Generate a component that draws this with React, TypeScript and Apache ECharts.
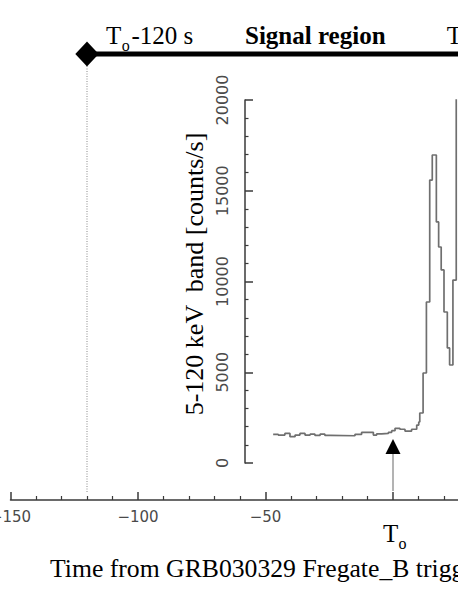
import React, { useEffect, useRef } from "react";
import * as echarts from "echarts";

// Light curve bins: left edge time (s from trigger) and rate (counts/s)
const binStart = [
  -47, -45, -42.4, -40.4, -38.4, -36.5, -34.5, -32.5, -30.6, -28.6, -26.7, -24.7,
  -14.9, -12.3, -7.7, -6.4, -4.4, -1.8, -0.5, 0.8, 2.7, 4.7, 7.3, 9.3, 10.1, 10.5,
  11.8, 13.1, 14.4, 15.4, 17, 17.9, 18.9, 20, 21.3, 22.2, 23.5, 24.8, 26.5,
];
const counts = [
  1580, 1540, 1630, 1450, 1540, 1630, 1540, 1590, 1520, 1590, 1520, 1500,
  1580, 1690, 1540, 1610, 1630, 1690, 1780, 1910, 1860, 1760, 1860, 2090, 2260, 2755,
  4960, 8870, 15590, 16970, 13280, 11900, 10640, 8320, 6340, 5400, 10080, 30000, 30000,
];
const xMin = -150;
const xMax = 60;
const xStep = 50;
const yMin = 0;
const yMax = 20000;
const yStep = 5000;
const signalStart = -120; // T0 - 120 s
const triggerTime = 0; // T0
const yTitle = "5-120 keV  band [counts/s]";
const xTitle = "Time from GRB030329 Fregate_B trigger [s]";

const SERIF = "'Liberation Serif', 'Times New Roman', serif";
const SANS = "'DejaVu Sans', 'Liberation Sans', sans-serif";

export default function App() {
  const ref = useRef<HTMLDivElement>(null);
  useEffect(() => {
    const el = ref.current!;
    const chart = echarts.init(el, null, { renderer: "svg" });
    const data = binStart.map((t, i) => [t, counts[i]]);
    const axisColor = "#3a3a3a";
    chart.setOption({
      animation: false,
      backgroundColor: "#fff",
      grid: [
        { left: 10.5, top: 100, width: 535.5, height: 363, outerBoundsMode: "none", containLabel: false },
        { left: 245, top: 100, width: 1, height: 363, outerBoundsMode: "none", containLabel: false },
      ],
      xAxis: [
        {
          type: "value",
          gridIndex: 0,
          min: xMin,
          max: xMax,
          interval: xStep,
          offset: 37,
          axisLine: { show: true, onZero: false, lineStyle: { color: axisColor, width: 1.5 } },
          axisTick: { show: true, inside: true, length: 8, lineStyle: { color: axisColor, width: 1.5 } },
          minorTick: { show: true, splitNumber: 5, length: 4, lineStyle: { color: axisColor, width: 1.2 } },
          splitLine: { show: false },
          axisLabel: {
            margin: 9,
            fontFamily: SANS,
            fontSize: 15,
            color: "#4a4a4a",
            formatter: (v: number) => (v < 0 ? "\u2212" + Math.abs(v) : ""),
          },
        },
        { type: "value", gridIndex: 1, show: false, min: 0, max: 1 },
      ],
      yAxis: [
        { type: "value", gridIndex: 0, show: false, min: yMin, max: yMax },
        {
          type: "value",
          gridIndex: 1,
          min: yMin,
          max: yMax,
          interval: yStep,
          axisLine: { show: true, onZero: false, lineStyle: { color: axisColor, width: 1.5 } },
          axisTick: { show: true, inside: true, length: 8, lineStyle: { color: axisColor, width: 1.5 } },
          minorTick: { show: true, splitNumber: 5, length: 3.5, lineStyle: { color: axisColor, width: 1.2 } },
          splitLine: { show: false },
          axisLabel: {
            rotate: 90,
            margin: 15,
            fontFamily: SANS,
            fontSize: 16,
            color: "#4a4a4a",
            formatter: (v: number) => String(v),
          },
        },
      ],
      series: [
        {
          type: "line",
          xAxisIndex: 0,
          yAxisIndex: 0,
          step: "end",
          data,
          showSymbol: false,
          symbol: "none",
          clip: true,
          lineStyle: { color: "#6f6f6f", width: 1.7 },
        },
      ],
    });

    const pS = chart.convertToPixel({ gridIndex: 0 }, [signalStart, 0]) as number[];
    const pT = chart.convertToPixel({ gridIndex: 0 }, [triggerTime, 0]) as number[];
    const sx = pS[0];
    const tx = pT[0];
    const lineY = 54;
    const topBase = 35.6;

    chart.setOption({
      graphic: [
        {
          type: "line",
          shape: { x1: sx, y1: lineY, x2: 480, y2: lineY },
          style: { stroke: "#000", lineWidth: 5 },
        },
        {
          type: "polygon",
          shape: { points: [[sx, lineY - 12.5], [sx + 11.7, lineY], [sx, lineY + 12.5], [sx - 11.7, lineY]] },
          style: { fill: "#000" },
        },
        {
          type: "line",
          shape: { x1: sx, y1: 66, x2: sx, y2: 492 },
          style: { stroke: "#8a8a8a", lineWidth: 1, lineDash: [1, 1.5] },
        },
        { type: "text", x: 106, y: topBase, style: { text: "T", font: `25px ${SERIF}`, fill: "#000", verticalAlign: "middle", align: "left" } },
        { type: "text", x: 121.7, y: 45.5, style: { text: "o", font: `16px ${SERIF}`, fill: "#000", verticalAlign: "middle", align: "left" } },
        { type: "text", x: 131.5, y: topBase, style: { text: "-120 s", font: `25px ${SERIF}`, fill: "#000", verticalAlign: "middle", align: "left" } },
        { type: "text", x: 245, y: topBase, style: { text: "Signal region", font: `bold 25px ${SERIF}`, fill: "#000", verticalAlign: "middle", align: "left" } },
        { type: "text", x: 446.7, y: topBase, style: { text: "T", font: `25px ${SERIF}`, fill: "#000", verticalAlign: "middle", align: "left" } },
        {
          type: "polygon",
          shape: { points: [[tx, 439], [tx + 7.5, 454], [tx - 7.5, 454]] },
          style: { fill: "#000" },
        },
        {
          type: "line",
          shape: { x1: tx, y1: 454, x2: tx, y2: 491 },
          style: { stroke: "#9a9a9a", lineWidth: 1.5 },
        },
        { type: "text", x: tx - 10, y: 533.6, style: { text: "T", font: `25px ${SERIF}`, fill: "#000", verticalAlign: "middle", align: "left" } },
        { type: "text", x: tx + 5.5, y: 543.5, style: { text: "o", font: `16px ${SERIF}`, fill: "#000", verticalAlign: "middle", align: "left" } },
        { type: "text", x: 50, y: 568.6, style: { text: xTitle, font: `25.7px ${SERIF}`, fill: "#000", verticalAlign: "middle", align: "left" } },
        {
          type: "text",
          x: 194,
          y: 274,
          rotation: Math.PI / 2,
          style: { text: yTitle, font: `26px ${SERIF}`, fill: "#000", verticalAlign: "middle", align: "center" },
        },
      ],
    });

    return () => chart.dispose();
  }, []);
  return (
    <div style={{ position: "absolute", left: 0, top: 0, width: 458, height: 592, overflow: "hidden", background: "#fff" }}>
      <div ref={ref} style={{ width: 458, height: 592 }} />
    </div>
  );
}
